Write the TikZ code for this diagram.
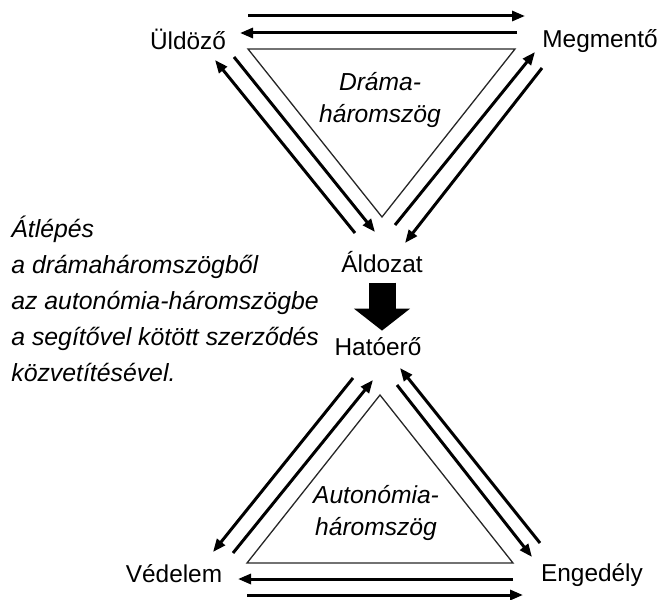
\documentclass[tikz,border=0pt]{standalone}
\usepackage{fontspec}
\setmainfont{Liberation Sans}
\usetikzlibrary{arrows.meta}

\begin{document}
\begin{tikzpicture}[x=0.5pt, y=-0.5pt]
\tikzset{felirat/.style={font=\fontsize{12.2}{18}\selectfont, inner sep=0pt},
  dolt/.style={inner sep=0pt, font=\fontsize{12.3}{16}\selectfont\itshape},
  nyil/.style={line width=1.5pt, -{Triangle[length=6.5pt,width=5pt]}},
  haromszog/.style={line width=0.65pt, black!85, line join=miter}}
\useasboundingbox (0,0) rectangle (663,599);
% szereplok
\node[felirat, anchor=base] (Uld) at (188,50) {Üldöző};
\node[felirat, anchor=base] (Meg) at (600,48) {Megmentő};
\node[felirat, anchor=base] (Ald) at (382,272) {Áldozat};
\node[felirat, anchor=base] (Hat) at (378,355) {Hatóerő};
\node[felirat, anchor=base] (Ved) at (174,582) {Védelem};
\node[felirat, anchor=base] (Eng) at (592,581) {Engedély};
\node[dolt, align=center, anchor=north] (drama) at (380,72) {Dráma-\\háromszög};
\node[dolt, align=center, anchor=north] (auto) at (376,485) {Autonómia-\\háromszög};
\node[felirat, font=\fontsize{12.4}{18}\selectfont\itshape, align=left, anchor=north west] (atlepes) at (11,216)
  {Átlépés\\a drámaháromszögből\\az autonómia-háromszögbe\\a segítővel kötött szerződés\\közvetítésével.};
% haromszogek
\coordinate (D1) at (248,49);
\coordinate (D2) at (515,49);
\coordinate (D3) at (382,217);
\coordinate (A1) at (380,395);
\coordinate (A2) at (247,563);
\coordinate (A3) at (513,563);
\draw[haromszog] (D1) -- (D2) -- (D3) -- cycle;
\draw[haromszog] (A1) -- (A2) -- (A3) -- cycle;
% nyilak vegpontjai
\coordinate (um1) at (248,16);  \coordinate (mu1) at (525,16);
\coordinate (mu2) at (517,33);  \coordinate (um2) at (240,33);
\coordinate (au1) at (355,233); \coordinate (ua1) at (215,60);
\coordinate (ua2) at (234,57);  \coordinate (au2) at (375,232);
\coordinate (am1) at (395,225); \coordinate (ma1) at (535,52);
\coordinate (ma2) at (542,68);  \coordinate (am2) at (405,243);
\coordinate (hv1) at (353,378); \coordinate (vh1) at (213,552);
\coordinate (vh2) at (233,553); \coordinate (hv2) at (373,380);
\coordinate (he1) at (397,385); \coordinate (eh1) at (532,557);
\coordinate (eh2) at (540,543); \coordinate (he2) at (400,368);
\coordinate (ev1) at (513,579); \coordinate (ve1) at (238,579);
\coordinate (ve2) at (247,595); \coordinate (ev2) at (523,595);
\draw[nyil] (um1) -- (mu1);
\draw[nyil] (mu2) -- (um2);
\draw[nyil] (au1) -- (ua1);
\draw[nyil] (ua2) -- (au2);
\draw[nyil] (am1) -- (ma1);
\draw[nyil] (ma2) -- (am2);
\draw[nyil] (hv1) -- (vh1);
\draw[nyil] (vh2) -- (hv2);
\draw[nyil] (he1) -- (eh1);
\draw[nyil] (eh2) -- (he2);
\draw[nyil] (ev1) -- (ve1);
\draw[nyil] (ve2) -- (ev2);
% atmenet
\draw[line width=13.5pt, -{Triangle[length=11pt,width=27.5pt]}]
  ([yshift=-5pt]Ald.south) -- ([yshift=3pt]Ald.south |- Hat.north);
\end{tikzpicture}
\end{document}
